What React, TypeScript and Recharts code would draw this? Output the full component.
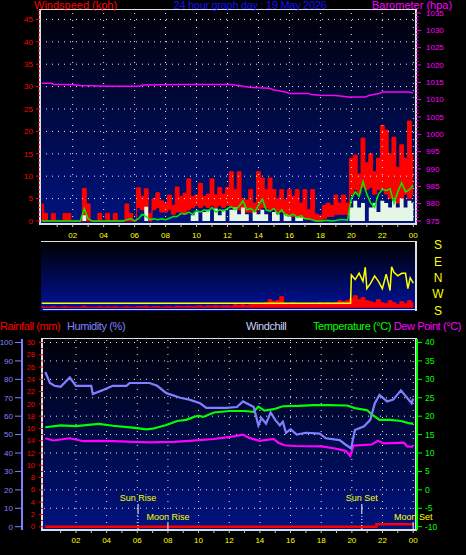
import React from 'react'
import { ComposedChart, Area, Line, XAxis, YAxis, ReferenceLine } from 'recharts'

const FONT = "'Liberation Sans', Arial, sans-serif"

// quarter-hour samples 00:00 .. 24:00 (97 each), kph
const WIND_HI = [
  3.8, 1.7, 0, 1.7, 0, 0, 1.7, 1.7,
  0, 0, 0, 7.3, 3.8, 0, 0, 1.7,
  0, 1.7, 0, 1.7, 0, 0, 3.8, 1.7,
  0, 7.4, 5.5, 7.2, 1.7, 5, 6.3, 4.5,
  4, 5.8, 3.5, 7.6, 5.5, 6.2, 9.4, 5.5,
  5.8, 8.4, 5.5, 6, 9.4, 5.8, 7.5, 6,
  7.5, 11, 7, 11, 5, 4.7, 7, 4,
  11, 9.6, 7, 9.6, 7, 5, 7, 4.7,
  7, 5.5, 7, 4, 7, 2.5, 7, 1.5,
  1.2, 3.5, 4, 3.5, 5.8, 4, 5.8, 4,
  14, 14.7, 10.5, 18.5, 13, 15, 11, 14,
  21.3, 20.3, 15, 18.7, 12, 17, 14, 22.3,
  15,
]
const WIND_LO = [
  0, 0, 0, 0, 0, 0, 0, 0,
  0, 0, 0, 0, 0, 0, 0, 0,
  0, 0, 0, 0, 0, 0, 0, 0,
  0, 3, 2.5, 2, 0, 2.5, 3, 2,
  2, 2.5, 1.5, 2, 2, 1.5, 2.5, 3,
  3.5, 3, 3.5, 3, 3.5, 3, 3.5, 3,
  3.5, 3, 3, 2.5, 1.7, 2, 2, 1.7,
  2.5, 3, 3, 2.5, 2.5, 2, 2, 1.5,
  1.5, 1, 1, 0.5, 0.5, 0.3, 0.3, 0,
  0, 0.5, 1, 1, 1.5, 1.5, 1.5, 1.5,
  6, 7, 6, 7.5, 7, 7.5, 6, 7,
  7, 6, 5, 5, 4, 5, 6, 5,
  6,
]
const WIND_AVG = [
  0, 0, 0, 0, 0, 0, 0, 0,
  0, 0, 0, 2.8, 0.5, 0, 0, 0,
  0, 0, 0, 0, 0, 0, 0.3, 0.5,
  0, 0.5, 1.5, 1, 0.3, 0.5, 0.3, 0.5,
  0.3, 0.6, 1, 1, 1.7, 1.5, 2, 1.5,
  2.3, 2, 2.5, 2.2, 3, 2, 2.5, 2.2,
  2.8, 3.2, 2.5, 3.3, 4.5, 2.5, 2.8, 2,
  3.5, 4.9, 2.5, 2.2, 2.8, 1.5, 2.5, 1.3,
  1.2, 1.5, 0.8, 1.2, 0.5, 0.5, 0.2, 0,
  0, 0.1, 0.1, 0, 0.1, 0.3, 0.3, 0.2,
  5, 6.5, 5.5, 8.8, 6, 4, 3, 6,
  7, 6.8, 7.2, 4, 6.5, 8.5, 6.5, 7,
  8,
]
const WIND_BAR = [
  0, 0, 0, 0, 0, 0, 0, 0,
  0, 0, 0, 1.3, 0, 0, 0, 0,
  0, 0, 0, 0, 0, 0, 0, 0,
  0, 0, 0, 3.2, 0, 0, 0, 0,
  0, 0, 0, 0, 0, 0, 0, 1.3,
  2, 0, 2, 2.5, 0, 2.8, 1.3, 2.5,
  0, 2.5, 3, 1.5, 3, 1.5, 0, 2,
  1.5, 2.5, 1.5, 0, 2, 1.5, 0, 1.5,
  1, 0, 1, 0.8, 0, 0, 0, 0,
  0, 0, 0, 0, 0, 0, 0, 0,
  3, 4.5, 3, 4, 0, 3, 4, 2,
  4.5, 4, 3, 4.5, 3, 5, 3, 4.5,
  4,
]
// red trace in the direction strip
const DIR_GUST = [
  1, 0.5, 0.5, 1, 0.5, 0.5, 1, 0.5,
  0.5, 0.5, 0.5, 1.5, 0.5, 0.5, 0.5, 1,
  0.5, 1, 0.5, 1, 0.5, 0.5, 1, 0.5,
  0.5, 1, 1, 1.5, 0.5, 1, 1, 0.5,
  1, 1, 0.5, 1.5, 1, 1, 1.5, 1,
  1.5, 1.8, 1, 1.8, 1.5, 2, 1.5, 1.8,
  2, 1.5, 3, 2.5, 3, 2, 3, 3.5,
  3, 4, 5, 8, 6, 7, 11, 4,
  3.5, 5, 3, 4, 3.5, 3, 4, 3.5,
  5, 4, 5, 4, 5, 7, 6, 7,
  9, 12, 8, 10, 7, 6, 5, 8,
  5, 4, 7, 5, 3, 6, 4, 7,
  5,
]

// wind direction, degrees (360 = N)
const DIR_T = [0, 19.95, 20.0, 20.25, 20.5, 20.75, 20.9, 21.0, 21.25, 21.5, 21.75, 22.0, 22.25, 22.5, 22.6, 22.75, 23.0, 23.25, 23.5, 23.65, 23.8, 24]
const DIR_V = [220, 220, 375, 350, 385, 340, 418, 300, 330, 370, 340, 300, 380, 290, 420, 390, 370, 384, 384, 300, 360, 330]

const BARO_T = [0, 0.6, 0.8, 1.4, 2, 2.5, 4.4, 6.3, 6.5, 9.2, 12.2, 12.8, 13.4, 14, 14.7, 15, 15.7, 16, 17.2, 17.4, 18, 19, 19.8, 20.9, 21.2, 21.8, 22, 23.7, 24]
const BARO_V = [1014.7, 1014.7, 1014.4, 1014.4, 1014.3, 1014.1, 1013.9, 1013.9, 1014.2, 1014.4, 1014.4, 1014.0, 1013.6, 1013.4, 1013.3, 1012.8, 1012.3, 1011.8, 1011.8, 1011.5, 1011.3, 1011.2, 1010.8, 1010.8, 1011.3, 1011.8, 1012.2, 1012.2, 1011.9]

const HUM_T = [0, 0.3, 0.6, 1.0, 1.6, 2.0, 2.5, 3.0, 3.1, 3.7, 4.4, 5.3, 5.5, 6.8, 7.3, 7.9, 8.8, 9.4, 10.1, 10.5, 11.8, 12.5, 12.9, 13.6, 13.9, 14.1, 14.4, 14.7, 15.0, 15.3, 15.5, 15.7, 16.0, 16.4, 17.0, 17.9, 18.3, 19.2, 19.6, 19.95, 20.2, 20.8, 21.2, 21.5, 21.8, 22.3, 22.7, 23.2, 23.6, 23.9, 24]
const HUM_V = [84, 78, 76.5, 76, 81, 76.5, 76.5, 76.5, 72, 74, 76.5, 76.5, 78, 78, 76.5, 72.5, 70, 69, 67, 64.5, 64.5, 65, 68, 65, 55, 59, 56, 62, 58, 55, 57, 51, 53, 50, 51, 50.5, 48, 47, 44.5, 42.5, 52.5, 54.5, 58, 67, 71.5, 68, 69, 74, 70, 67, 69.5]

const TEMP_T = [0, 1, 2, 3, 3.5, 4.4, 5.7, 6.6, 7, 7.9, 8.6, 9.2, 9.7, 10, 10.3, 11, 12, 13, 13.6, 13.9, 14.3, 14.9, 15.5, 16.5, 17.5, 18.5, 19.7, 20.2, 21, 21.3, 21.6, 21.8, 22.5, 23.2, 23.7, 24]
const TEMP_V = [17.0, 17.5, 17.3, 17.7, 17.9, 17.4, 16.9, 16.4, 16.6, 17.6, 18.7, 19.0, 19.8, 20.1, 19.8, 21.0, 21.4, 21.4, 21.2, 22.6, 21.5, 21.9, 22.7, 22.8, 23.0, 23.0, 22.9, 22.2, 21.6, 20.5, 19.6, 19.0, 19.0, 18.7, 18.1, 18.0]

const DEW_T = [0, 0.5, 1.6, 2.5, 3.5, 4.4, 5.3, 6.8, 8.4, 9.4, 11, 12.1, 12.9, 13.3, 14, 14.9, 15.2, 15.6, 16.3, 18, 18.8, 19.6, 19.9, 20.1, 21.3, 21.7, 22.1, 23.4, 23.6, 24]
const DEW_V = [14.0, 13.4, 14.0, 13.2, 13.3, 13.2, 13.1, 12.9, 13.0, 13.3, 13.8, 14.4, 15.0, 14.1, 13.3, 13.8, 12.8, 12.1, 11.9, 11.8, 11.3, 10.6, 9.2, 12.0, 12.3, 13.3, 12.6, 12.8, 11.8, 11.7]

const RAIN_T = [0, 21.6, 24]
const RAIN_V = [0, 0.4, 0.4]

const HOUR_TICKS = [1, 2, 3, 4, 5, 6, 7, 8, 9, 10, 11, 12, 13, 14, 15, 16, 17, 18, 19, 20, 21, 22, 23, 24]
const GRID_HOURS = [2, 4, 6, 8, 10, 12, 14, 16, 18, 20, 22, 24]
const WIND_GRID = [5, 10, 15, 20, 25, 30, 35, 40, 45]
const TEMP_GRID = [-5, 0, 5, 10, 15, 20, 25, 30, 35, 40]
const DIR_TICKS = [180, 270, 360, 450, 540]
const DIR_LABELS = ['S', 'W', 'N', 'E', 'S']

const EVENTS = [
  { t: 6.05, name: 'Sun Rise', row: 0 },
  { t: 8.0, name: 'Moon Rise', row: 1 },
  { t: 20.65, name: 'Sun Set', row: 0 },
  { t: 24, name: 'Moon Set', row: 1 },
]

const windData = WIND_HI.map((hi, i) => ({
  t: i / 4,
  range: [WIND_LO[i], hi],
  avg: WIND_AVG[i],
  bar: WIND_BAR[i],
  gust: DIR_GUST[i],
}))
const zip = (ts: number[], vs: number[]) => ts.map((t, i) => ({ t, v: vs[i] }))

const seq = (a: number, b: number, step = 1) => {
  const out: number[] = []
  for (let v = a; v <= b; v += step) out.push(v)
  return out
}

const hourLabel = (v: number) => (v % 2 === 0 ? String(v % 24).padStart(2, '0') : '')

// axis tick with short minor marks
function axisTick(color: string, side: 'left' | 'right', size: number, margin: number, fontSize: number, major: (v: number) => boolean) {
  return (props: any) => {
    const { x, y, payload } = props
    const v = payload.value
    const isMajor = major(v)
    const ax = side === 'left' ? x + margin + size : x - margin - size
    const len = isMajor ? size : size / 2
    return (
      <g>
        <line x1={ax} x2={side === 'left' ? ax - len : ax + len} y1={y} y2={y} stroke={color} />
        {isMajor && (
          <text x={x} y={y} dy="0.35em" textAnchor={side === 'left' ? 'end' : 'start'} fill={color} fontSize={fontSize} fontFamily={FONT}>
            {v}
          </text>
        )}
      </g>
    )
  }
}

function dirTick(props: any) {
  const { x, y, payload } = props
  const i = DIR_TICKS.indexOf(payload.value)
  return (
    <text x={x} y={y} dy="0.36em" textAnchor="middle" fill="#ffff00" fontSize={12} fontFamily={FONT}>
      {DIR_LABELS[i]}
    </text>
  )
}

function eventLabel(name: string, row: number) {
  return (props: any) => {
    const vb = props.viewBox
    const x = vb.x
    const bottom = vb.y + vb.height
    return (
      <g>
        <text x={x} y={row === 0 ? bottom - 29.5 : bottom - 10.5} textAnchor="middle" fill="#ffff00" fontSize={9} fontFamily={FONT}>
          {name}
        </text>
        {row === 0 ? (
          <>
            <line x1={x} x2={x} y1={bottom - 26} y2={bottom - 17} stroke="#ffffff" />
            <line x1={x} x2={x} y1={bottom - 17} y2={bottom} stroke="#ffffff" strokeDasharray="1 2" />
          </>
        ) : (
          <line x1={x} x2={x} y1={bottom - 7} y2={bottom} stroke="#ffffff" />
        )}
      </g>
    )
  }
}

const GRAD = 'linear-gradient(to bottom, #000008, #00137f)'
const dots = { stroke: '#e8e8e8', strokeDasharray: '1 5' }

const label = (text: string, style: React.CSSProperties) => (
  <div style={{ position: 'absolute', fontFamily: FONT, fontSize: 11, lineHeight: '11px', whiteSpace: 'nowrap', ...style }}>{text}</div>
)

export default function App() {
  return (
    <div style={{ position: 'absolute', left: 0, top: 0, width: 466, height: 555, background: '#000', overflow: 'hidden' }}>
      {/* panel backgrounds and frames */}
      <div style={{ position: 'absolute', left: 39, top: 9, width: 378, height: 216, boxSizing: 'border-box', background: GRAD, borderTop: '1px solid #e0e0e0', borderLeft: '2px solid #e0e0e0', borderRight: '2px solid #e0e0e0', borderBottom: '2px solid #e0e0e0' }} />
      <div style={{ position: 'absolute', left: 41, top: 241, width: 376, height: 70, boxSizing: 'border-box', background: 'linear-gradient(to bottom, #000000, #0012a0)', borderTop: '1px solid #e0e0e0', borderRight: '2px solid #e0e0e0' }} />
      <div style={{ position: 'absolute', left: 43, top: 309, width: 372, height: 1, background: '#d8d8f0' }} />
      <div style={{ position: 'absolute', left: 41, top: 338, width: 376, height: 193, boxSizing: 'border-box', background: GRAD, borderTop: '1px solid #e0e0e0', borderLeft: '2px solid #e0e0e0', borderRight: '2px solid #e0e0e0', borderBottom: '2px solid #e0e0e0' }} />

      {label('Windspeed (kph)', { left: 34, top: 0, color: '#ff0000' })}
      {label('24 hour graph day : 19 May 2026', { left: 250, top: 0, transform: 'translateX(-50%)', color: '#1010ff', letterSpacing: -0.3 })}
      {label('Barometer (hpa)', { left: 372, top: 0, color: '#ff00ff' })}

      {label('Rainfall (mm)', { left: 0, top: 321, color: '#ff0000', letterSpacing: -0.4 })}
      {label('Humidity (%)', { left: 67, top: 321, color: '#8080ff', letterSpacing: -0.4 })}
      {label('Windchill', { left: 246, top: 321, color: '#c8d4ff', letterSpacing: -0.4 })}
      {label('Temperature (°C)', { left: 313, top: 321, color: '#00ff00', letterSpacing: -0.4 })}
      {label('Dew Point (°C)', { right: 5, top: 321, color: '#ff00ff', letterSpacing: -0.4 })}

      {/* wind speed + barometer */}
      <div style={{ position: 'absolute', left: 0, top: 0 }}>
        <ComposedChart width={466} height={244} data={windData} margin={{ top: 10, right: 0, bottom: 0, left: 0 }}>
          <XAxis dataKey="t" type="number" domain={[-0.11, 24.175]} allowDataOverflow ticks={HOUR_TICKS} interval={0}
            tickFormatter={hourLabel} axisLine={false} tickLine={{ stroke: '#c8c8c8' }} tickSize={3} tickMargin={5} height={20}
            tick={{ fill: '#ffff00', fontSize: 8, fontFamily: FONT }} />
          <YAxis yAxisId="wind" orientation="left" width={40} domain={[-0.67, 47.1]} allowDataOverflow ticks={seq(0, 47)} interval={0}
            axisLine={false} tickLine={false} tickSize={4} tickMargin={3}
            tick={axisTick('#ff0000', 'left', 4, 3, 8, (v) => v % 5 === 0)} />
          <YAxis yAxisId="baro" orientation="right" width={50} domain={[974.13, 1035.86]} allowDataOverflow ticks={seq(975, 1035)} interval={0}
            axisLine={false} tickLine={false} tickSize={5} tickMargin={5}
            tick={axisTick('#ff00ff', 'right', 5, 5, 8, (v) => v % 5 === 0)} />
          {WIND_GRID.map((v) => (
            <ReferenceLine key={'h' + v} yAxisId="wind" y={v} {...dots} />
          ))}
          {GRID_HOURS.map((h) => (
            <ReferenceLine key={'v' + h} yAxisId="wind" x={h} stroke="#e8e8e8" strokeDasharray="1 6" />
          ))}
          <Area yAxisId="wind" type="step" dataKey="range" stroke="#ff0000" strokeWidth={1} fill="#ff0000" fillOpacity={1} isAnimationActive={false} />
          <Area yAxisId="wind" type="step" dataKey="bar" stroke="none" fill="#e6f6e6" fillOpacity={1} isAnimationActive={false} />
          <Line yAxisId="wind" type="linear" dataKey="avg" stroke="#00ee00" strokeWidth={1.5} dot={false} isAnimationActive={false} />
          <Line yAxisId="baro" data={zip(BARO_T, BARO_V)} type="linear" dataKey="v" stroke="#ff00ff" strokeWidth={1.5} dot={false} isAnimationActive={false} />
        </ComposedChart>
      </div>

      {/* wind direction strip */}
      <div style={{ position: 'absolute', left: 0, top: 231 }}>
        <ComposedChart width={466} height={90} data={windData} margin={{ top: 10, right: 0, bottom: 10, left: 41 }}>
          <XAxis dataKey="t" type="number" domain={[-0.045, 24.24]} allowDataOverflow hide />
          <YAxis yAxisId="gust" hide domain={[-3.3, 66.7]} allowDataOverflow />
          <YAxis yAxisId="dir" orientation="right" width={49} domain={[177, 562]} allowDataOverflow ticks={DIR_TICKS} interval={0}
            axisLine={false} tickLine={false} tickSize={0} tickMargin={21} tick={dirTick} />
          <Line yAxisId="dir" data={zip(DIR_T, DIR_V)} type="linear" dataKey="v" stroke="#ffff00" strokeWidth={1.5} dot={false} isAnimationActive={false} />
          <Area yAxisId="gust" type="step" dataKey="gust" stroke="#ff0000" strokeWidth={1} fill="#ff0000" fillOpacity={1} isAnimationActive={false} />
        </ComposedChart>
      </div>

      {/* rain, humidity, temperature, dew point */}
      <div style={{ position: 'absolute', left: 0, top: 333 }}>
        <ComposedChart width={466} height={218} margin={{ top: 6, right: 0, bottom: 0, left: 0 }}>
          <XAxis dataKey="t" type="number" domain={[-0.15, 24.25]} allowDataOverflow ticks={HOUR_TICKS} interval={0}
            tickFormatter={hourLabel} axisLine={false} tickLine={{ stroke: '#c8c8c8' }} tickSize={3} tickMargin={4} height={21}
            tick={{ fill: '#ffff00', fontSize: 8, fontFamily: FONT }} />
          <YAxis yAxisId="a_rain" orientation="left" width={21} domain={[-0.537, 30.57]} allowDataOverflow ticks={seq(0, 30)} interval={0}
            axisLine={false} tickLine={false} tickSize={4} tickMargin={4}
            tick={axisTick('#ff0000', 'left', 4, 4, 7.5, (v) => v % 2 === 0)} />
          <YAxis yAxisId="b_hum" orientation="left" width={22} domain={[-1.79, 101.9]} allowDataOverflow ticks={seq(0, 100, 10)} interval={0}
            axisLine={{ stroke: '#8080ff', strokeWidth: 2 }} tickLine={false} tickSize={7} tickMargin={2}
            tick={axisTick('#8080ff', 'left', 7, 2, 8, () => true)} />
          <YAxis yAxisId="temp" orientation="right" width={49} domain={[-10.9, 40.95]} allowDataOverflow ticks={seq(-10, 40, 5)} interval={0}
            axisLine={{ stroke: '#00ff00', strokeWidth: 2 }} tickLine={false} tickSize={5} tickMargin={3}
            tick={axisTick('#00ff00', 'right', 5, 3, 8.5, () => true)} />
          {TEMP_GRID.map((v) => (
            <ReferenceLine key={'h' + v} yAxisId="temp" y={v} {...dots} />
          ))}
          {GRID_HOURS.map((h) => (
            <ReferenceLine key={'v' + h} yAxisId="temp" x={h} stroke="#e8e8e8" strokeDasharray="1 6" />
          ))}
          <Line yAxisId="a_rain" data={zip(RAIN_T, RAIN_V)} type="stepAfter" dataKey="v" stroke="#ff0000" strokeWidth={2.5} dot={false} isAnimationActive={false} />
          <Line yAxisId="temp" data={zip(DEW_T, DEW_V)} type="linear" dataKey="v" stroke="#ff00ff" strokeWidth={2.2} dot={false} isAnimationActive={false} />
          <Line yAxisId="temp" data={zip(TEMP_T, TEMP_V)} type="linear" dataKey="v" stroke="#00ff00" strokeWidth={2.2} dot={false} isAnimationActive={false} />
          <Line yAxisId="b_hum" data={zip(HUM_T, HUM_V)} type="linear" dataKey="v" stroke="#8080ff" strokeWidth={2.2} dot={false} isAnimationActive={false} />
          {EVENTS.map((e) => (
            <ReferenceLine key={e.name} yAxisId="temp" x={e.t} stroke="none" label={eventLabel(e.name, e.row)} />
          ))}
        </ComposedChart>
      </div>
    </div>
  )
}
